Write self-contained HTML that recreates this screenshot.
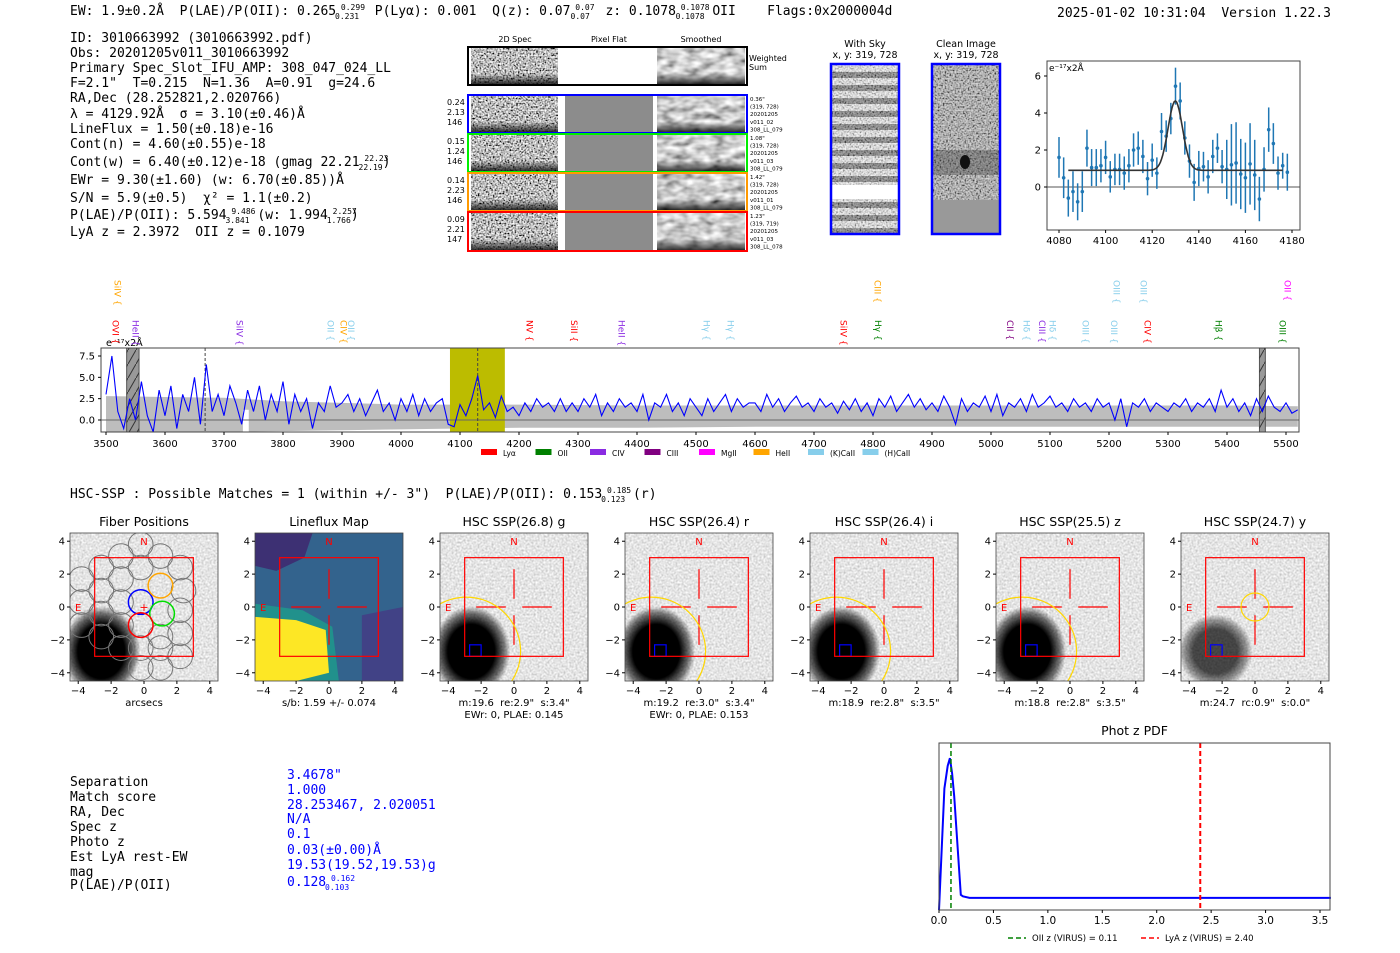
<!DOCTYPE html>
<html><head><meta charset="utf-8">
<style>
html,body{margin:0;padding:0;background:#fff;}
svg{display:block;}
text{white-space:pre;}
.m{font-family:"DejaVu Sans Mono","Liberation Mono",monospace;font-size:13px;fill:#000;}
.s{font-family:"DejaVu Sans","Liberation Sans",sans-serif;}
</style></head>
<body>
<svg id="fig" width="1400" height="953" viewBox="0 0 1400 953" xmlns="http://www.w3.org/2000/svg" xml:space="preserve">
<defs>
<filter id="nz" x="0" y="0" width="100%" height="100%"><feTurbulence type="fractalNoise" baseFrequency="0.6" numOctaves="1" seed="4"/><feColorMatrix type="saturate" values="0"/><feComponentTransfer><feFuncR type="linear" slope="3" intercept="-1"/><feFuncG type="linear" slope="3" intercept="-1"/><feFuncB type="linear" slope="3" intercept="-1"/><feFuncA type="linear" slope="0" intercept="1"/></feComponentTransfer></filter>
<filter id="nzs" x="0" y="0" width="100%" height="100%"><feTurbulence type="fractalNoise" baseFrequency="0.08 0.15" numOctaves="2" seed="9"/><feColorMatrix type="saturate" values="0"/><feComponentTransfer><feFuncR type="linear" slope="1.8" intercept="-0.3"/><feFuncG type="linear" slope="1.8" intercept="-0.3"/><feFuncB type="linear" slope="1.8" intercept="-0.3"/><feFuncA type="linear" slope="0" intercept="1"/></feComponentTransfer></filter>
<filter id="nzl" x="0" y="0" width="100%" height="100%"><feTurbulence type="fractalNoise" baseFrequency="0.5" numOctaves="1" seed="2"/><feColorMatrix type="saturate" values="0"/><feComponentTransfer><feFuncR type="linear" slope="0.9" intercept="0.33"/><feFuncG type="linear" slope="0.9" intercept="0.33"/><feFuncB type="linear" slope="0.9" intercept="0.33"/><feFuncA type="linear" slope="0" intercept="1"/></feComponentTransfer></filter>
<radialGradient id="gal"><stop offset="0" stop-color="#000"/><stop offset="0.6" stop-color="#000"/><stop offset="0.85" stop-color="#000" stop-opacity="0.5"/><stop offset="1" stop-color="#000" stop-opacity="0"/></radialGradient>
<linearGradient id="dark" x1="0" y1="0" x2="0" y2="1"><stop offset="0.7" stop-color="#000" stop-opacity="0"/><stop offset="1" stop-color="#000" stop-opacity="0.85"/></linearGradient>
<pattern id="hatch" width="8" height="14" patternUnits="userSpaceOnUse"><path d="M0,14 L8,0" stroke="#333" stroke-width="1"/></pattern>
<pattern id="stripes" width="10" height="13" patternUnits="userSpaceOnUse"><rect width="10" height="7" fill="#eee"/><rect y="7" width="10" height="6" fill="#666"/></pattern>
</defs>

<text class="m" x="70" y="15">EW: 1.9±0.2Å  P(LAE)/P(OII): 0.265<tspan font-size="8" dy="-5"> 0.299</tspan><tspan font-size="8" dx="-30" dy="9">0.231</tspan><tspan dy="-4">  P(Lyα): 0.001  Q(z): 0.07</tspan><tspan font-size="8" dy="-5"> 0.07</tspan><tspan font-size="8" dx="-24" dy="9">0.07</tspan><tspan dy="-4">  z: 0.1078</tspan><tspan font-size="8" dy="-5"> 0.1078</tspan><tspan font-size="8" dx="-34" dy="9">0.1078</tspan><tspan dy="-4"> OII    Flags:0x2000004d</tspan></text>
<text class="m" x="1057" y="17">2025-01-02 10:31:04  Version 1.22.3</text>

<g class="m">
<text x="70" y="42">ID: 3010663992 (3010663992.pdf)</text>
<text x="70" y="57">Obs: 20201205v011_3010663992</text>
<text x="70" y="72">Primary Spec_Slot_IFU_AMP: 308_047_024_LL</text>
<text x="70" y="87">F=2.1"  T=0.215  N=1.36  A=0.91  g=24.6</text>
<text x="70" y="102">RA,Dec (28.252821,2.020766)</text>
<text x="70" y="118">λ = 4129.92Å  σ = 3.10(±0.46)Å</text>
<text x="70" y="133">LineFlux = 1.50(±0.18)e-16</text>
<text x="70" y="148">Cont(n) = 4.60(±0.55)e-18</text>
<text x="70" y="166">Cont(w) = 6.40(±0.12)e-18 (gmag 22.21<tspan font-size="8" dy="-5"> 22.23</tspan><tspan font-size="8" dx="-30" dy="9">22.19</tspan><tspan dy="-4">)</tspan></text>
<text x="70" y="184">EWr = 9.30(±1.60) (w: 6.70(±0.85))Å</text>
<text x="70" y="202">S/N = 5.9(±0.5)  χ² = 1.1(±0.2)</text>
<text x="70" y="219">P(LAE)/P(OII): 5.594<tspan font-size="8" dy="-5"> 9.486</tspan><tspan font-size="8" dx="-30" dy="9">3.841</tspan><tspan dy="-4"> (w: 1.994</tspan><tspan font-size="8" dy="-5"> 2.257</tspan><tspan font-size="8" dx="-30" dy="9">1.766</tspan><tspan dy="-4">)</tspan></text>
<text x="70" y="236">LyA z = 2.3972  OII z = 0.1079</text>
</g>

<g id="spec2d"></g>
<g id="skyimgs"></g>
<g id="zoomplot"></g>
<g id="fullspec"></g>

<text class="m" x="70" y="498">HSC-SSP : Possible Matches = 1 (within +/- 3")  P(LAE)/P(OII): 0.153<tspan font-size="8" dy="-5"> 0.185</tspan><tspan font-size="8" dx="-30" dy="9">0.123</tspan><tspan dy="-4"> (r)</tspan></text>
<g id="cutouts"></g>

<g class="m">
<text x="70" y="786">Separation</text><text x="70" y="801">Match score</text><text x="70" y="816">RA, Dec</text><text x="70" y="831">Spec z</text><text x="70" y="846">Photo z</text><text x="70" y="861">Est LyA rest-EW</text><text x="70" y="876">mag</text><text x="70" y="889">P(LAE)/P(OII)</text>
<g>
<text x="287" y="779" style="fill:#00f">3.4678"</text><text x="287" y="794" style="fill:#00f">1.000</text><text x="287" y="809" style="fill:#00f">28.253467, 2.020051</text><text x="287" y="823" style="fill:#00f">N/A</text><text x="287" y="838" style="fill:#00f">0.1</text><text x="287" y="854" style="fill:#00f">0.03(±0.00)Å</text><text x="287" y="869" style="fill:#00f">19.53(19.52,19.53)g</text><text x="287" y="886" style="fill:#00f">0.128<tspan font-size="8" dy="-5"> 0.162</tspan><tspan font-size="8" dx="-30" dy="9">0.103</tspan></text>
</g></g>
<g id="pdfplot"></g>
</svg>

<script>
// ---------- data ----------
const specStart = 3500, specStep = 10;
const specFlux = [3,7.5,1,-1,2.5,0,4.5,0.5,-1.5,3.5,
0.5,4,-1,3,1,5,-0.5,6.5,1,3,
0.5,4,2,-0.5,3.5,1,4,0,3,1,
4.5,-0.5,3,1,2.5,-1,2,1,4,1.5,
2,3,1,2.5,0.5,2,3.5,1,2,0,
2.5,1,3,0.5,2.5,1,2,2.5,-0.5,-0.8,
1.8,0.5,2.5,5.2,1.2,2,0.3,2.8,1,1.5,
0.5,2,1,2.5,1.5,2,1,2.5,1,2,
1,2.5,1.5,3,0.5,2,1,2.5,1.5,2,
1,3,0,2,1.5,3,1,2,0.5,2.5,
1.5,0.5,2.5,1,2,3,1,2.5,1.5,2,
2,1,3,1.5,2.5,1,2,2.8,1.5,2,
1,2.5,1.5,2,0.8,2.2,1.2,2.5,1,2,
0.5,2.5,1.5,2.8,1,2,3,1.5,2.5,1.2,
2,1,2.8,1.5,-0.5,2.5,1,2,1.5,2.8,
1,3,0.5,2,1.5,2.5,1,3,1.5,2,
2.8,1.5,2,1,2.5,1.5,2,1,2.5,1.5,
2,0,2.5,-0.8,2,1.5,2.5,1,2,1.5,
1,2,1.5,2.5,1,2,1.5,2.5,1,3.5,
1.5,2.5,1,2,0.5,2.5,1,2.8,1.5,1,
2,0.8,1.2];
const bandWave = [3500,3600,3700,3800,3900,4000,4100,4200,4400,4600,4800,5000,5200,5400,5520];
const bandHigh = [2.8,2.7,2.6,2.2,2.0,1.8,1.8,1.8,1.7,1.7,1.7,1.7,1.7,1.7,1.6];
const bandLow = [-1.4,-1.4,-1.4,-1.3,-1.2,-1.1,-1.0,-0.9,-0.9,-0.8,-0.8,-0.8,-0.8,-0.8,-0.8];
const specXTicks = [3500,3600,3700,3800,3900,4000,4100,4200,4300,4400,4500,4600,4700,4800,4900,5000,5100,5200,5300,5400,5500];
const specYTicks = [0.0,2.5,5.0,7.5];
const lineNames = ["SiIV","CIII","OIII","OIII","OII","OVI","HeII","SiIV","OII","CIV","OII","NV","SiII","HeII","Hγ","Hγ","SiIV","Hγ","CII","Hδ","CIII","Hδ","OIII","OIII","CIV","Hβ","OIII"];
const lineWaves = [3519,4807,5212,5258,5502,3515,3549,3725,3880,3902,3914,4217,4292,4373,4517,4558,4749,4808,5031,5059,5086,5103,5159,5208,5264,5385,5493];
const lineRow = [0,0,0,0,0,1,1,1,1,1,1,1,1,1,1,1,1,1,1,1,1,1,1,1,1,1,1];
const lineColors = ["#ffa500","#ffa500","#87ceeb","#87ceeb","#ff00ff","#ff0000","#8a2be2","#8a2be2","#87ceeb","#ffa500","#87ceeb","#ff0000","#ff0000","#8a2be2","#87ceeb","#87ceeb","#ff0000","#008000","#800080","#87ceeb","#8a2be2","#87ceeb","#87ceeb","#87ceeb","#ff0000","#008000","#008000"];
const legendNames = ["Lyα","OII","CIV","CIII","MgII","HeII","(K)CaII","(H)CaII"];
const legendColors = ["#ff0000","#008000","#8a2be2","#800080","#ff00ff","#ffa500","#87ceeb","#87ceeb"];

const fitStart = 4080, fitStep = 2;
const fitFlux = [1.6,0.5,-0.6,-0.25,-0.8,-0.25,2.1,1.05,1.05,1.15,1.6,0.55,0.95,0.95,0.75,1.15,2.0,2.1,1.65,0.45,1.45,0.75,3.0,2.75,3.7,5.45,4.65,2.65,1.4,0.25,1.0,1.1,0.55,1.65,2.1,1.1,0.95,1.2,1.3,0.7,0.5,1.25,0.65,-0.65,0.95,3.1,2.35,0.75,1.15,0.8];
const fitErr = [1.1,1.1,1.0,1.1,1.0,1.1,1.0,1.0,1.0,0.9,0.9,0.85,0.85,0.85,0.9,0.9,0.9,0.9,0.9,0.9,0.9,0.85,1.0,0.85,0.85,1.0,1.0,0.9,0.9,1.0,0.95,0.8,0.9,0.9,0.8,0.9,1.6,2.2,2.2,1.9,1.9,2.2,1.9,1.2,1.2,1.2,1.1,0.9,0.7,1.0];
const fitXTicks = [4080,4100,4120,4140,4160,4180];
const fitYTicks = [0,2,4,6];
const gaussCenter = 4129.92, gaussSigma = 3.1, gaussAmp = 3.75, gaussCont = 0.9;

const pdfZ = [0,0.05,0.08,0.1,0.12,0.14,0.2,0.22,0.28,1.0,2.0,3.0,3.6];
const pdfP = [0,0.8,0.95,1.0,0.9,0.75,0.1,0.09,0.08,0.08,0.08,0.08,0.08];
const pdfXTicks = [0.0,0.5,1.0,1.5,2.0,2.5,3.0,3.5];
const oiiZ = 0.11, lyaZ = 2.40;

const cutTitles = ["Fiber Positions","Lineflux Map","HSC SSP(26.8) g","HSC SSP(26.4) r","HSC SSP(26.4) i","HSC SSP(25.5) z","HSC SSP(24.7) y"];
const cutSub1 = ["arcsecs","s/b: 1.59 +/- 0.074","m:19.6  re:2.9\"  s:3.4\"","m:19.2  re:3.0\"  s:3.4\"","m:18.9  re:2.8\"  s:3.5\"","m:18.8  re:2.8\"  s:3.5\"","m:24.7  rc:0.9\"  s:0.0\""];
const cutSub2 = ["","","EWr: 0, PLAE: 0.145","EWr: 0, PLAE: 0.153","","",""];
const cutTicks = [-4,-2,0,2,4];

// ---------- helpers ----------
const NS = "http://www.w3.org/2000/svg";
function mk(parent, tag, attrs, txt){ const e=document.createElementNS(NS,tag); for(const k in attrs) e.setAttribute(k,attrs[k]); if(txt!==undefined) e.textContent=txt; parent.appendChild(e); return e; }
const SF = '"DejaVu Sans","Liberation Sans",sans-serif';

// ---------- 2D spectra ----------
(function(){
  const g = document.getElementById('spec2d');
  const hdr = [["2D Spec",515],["Pixel Flat",609],["Smoothed",701]];
  hdr.forEach(h=>{ const t=mk(g,'text',{x:h[1],y:42,'font-size':8,'font-family':SF,'text-anchor':'middle'},h[0]);
      });
  const rows = [[47,85,"#000"],[95,133,"#0000ff"],[134,172,"#00ee00"],[173,211,"#ff9900"],[212,251,"#ff0000"]];
  const left = [null,["0.24","2.13","146"],["0.15","1.24","146"],["0.14","2.23","146"],["0.09","2.21","147"]];
  const right = [null,["0.36\"","(319, 728)","20201205","v011_02","308_LL_079"],["1.08\"","(319, 728)","20201205","v011_03","308_LL_079"],["1.42\"","(319, 728)","20201205","v011_01","308_LL_079"],["1.23\"","(319, 719)","20201205","v011_03","308_LL_078"]];
  rows.forEach((r,i)=>{
    const y0=r[0], h=r[1]-r[0];
    let e=mk(g,'rect',{x:471,y:y0,width:87,height:h,fill:'#888',filter:'url(#nz)'});
     
    e=mk(g,'rect',{x:471,y:y0,width:87,height:h,fill:'url(#dark)'});
     
    e=mk(g,'rect',{x:565,y:y0,width:88,height:h,fill:i===0?'#fff':'#8c8c8c'});
     
    e=mk(g,'rect',{x:657,y:y0,width:88,height:h,fill:'#888',filter:'url(#nzs)'});
     
    e=mk(g,'rect',{x:657,y:y0,width:88,height:h,fill:'url(#dark)'});
     
    e=mk(g,'rect',{x:468,y:y0,width:279,height:h,fill:'none',stroke:r[2],'stroke-width':2});
     
    if(left[i]) left[i].forEach((s,k)=>{ const t=mk(g,'text',{x:447,y:y0+10+k*10,'font-size':8,'font-family':SF},s);
        });
    if(right[i]) right[i].forEach((s,k)=>{ const t=mk(g,'text',{x:750,y:y0+6+k*7.6,'font-size':5.5,'font-family':SF},s);
        });
  });
  let t=mk(g,'text',{x:749,y:61,'font-size':8,'font-family':SF},"Weighted");
   
  t=mk(g,'text',{x:749,y:70,'font-size':8,'font-family':SF},"Sum");
   
})();

// ---------- sky images ----------
(function(){
  const g=document.getElementById('skyimgs');
  [[831,"With Sky"],[932,"Clean Image"]].forEach((p,i)=>{
    let t=mk(g,'text',{x:p[0]+34,y:47,'font-size':9.5,'font-family':SF,'text-anchor':'middle'},p[1]);
     
    t=mk(g,'text',{x:p[0]+34,y:58,'font-size':9.5,'font-family':SF,'text-anchor':'middle'},"x, y: 319, 728");
     
    let e=mk(g,'rect',{x:p[0],y:64,width:68,height:170,fill:i===0?'url(#stripes)':'#999'});
     
    e=mk(g,'rect',{x:p[0],y:64,width:68,height:170,fill:'#888',filter:'url(#nz)',opacity:i===0?0.45:0.6});
     
    if(i===0){ e=mk(g,'rect',{x:p[0],y:185,width:68,height:14,fill:'#fff'});   }
    else { e=mk(g,'rect',{x:p[0],y:150,width:68,height:25,fill:'#333',opacity:0.35});  
      e=mk(g,'rect',{x:p[0],y:200,width:68,height:34,fill:'#999'});  
      e=mk(g,'ellipse',{cx:965,cy:162,rx:5,ry:7,fill:'#111'});   }
    e=mk(g,'rect',{x:p[0],y:64,width:68,height:170,fill:'none',stroke:'#0000ff','stroke-width':2.5});
     
  });
})();

// ---------- zoom fit plot ----------
(function(){
  const g=document.getElementById('zoomplot');
  const L=1047,R=1300,T=61,B=230;
  const x=v=>1059+(v-4080)*(1292-1059)/100;
  const y=v=>187-v*(187-76)/6;
  let e;
  e=mk(g,'line',{x1:L,x2:R,y1:y(0),y2:y(0),stroke:'#555','stroke-width':1});  
  fitFlux.forEach((f,i)=>{ const w=fitStart+i*fitStep;
    e=mk(g,'line',{x1:x(w),x2:x(w),y1:Math.max(T,y(f+fitErr[i])),y2:Math.min(B,y(f-fitErr[i])),stroke:'#1f77b4','stroke-width':1.5});
     
    if(y(f)<B){ e=mk(g,'circle',{cx:x(w),cy:y(f),r:1.8,fill:'#1f77b4'});   }
  });
  let d='';
  for(let w=4084; w<=4176; w+=0.5){ const v=gaussCont+gaussAmp*Math.exp(-0.5*((w-gaussCenter)/gaussSigma)**2); d+=(d?'L':'M')+x(w).toFixed(1)+','+y(v).toFixed(1); }
  e=mk(g,'path',{d:d,fill:'none',stroke:'#333','stroke-width':1.6});  
  e=mk(g,'rect',{x:L,y:T,width:R-L,height:B-T,fill:'none',stroke:'#444','stroke-width':1});  
  fitXTicks.forEach(v=>{ e=mk(g,'line',{x1:x(v),x2:x(v),y1:B,y2:B+3,stroke:'#000'});  
    e=mk(g,'text',{x:x(v),y:B+14,'font-size':10,'font-family':SF,'text-anchor':'middle'},String(v));   });
  fitYTicks.forEach(v=>{ e=mk(g,'line',{x1:L-3,x2:L,y1:y(v),y2:y(v),stroke:'#000'});  
    e=mk(g,'text',{x:L-6,y:y(v)+3.5,'font-size':10,'font-family':SF,'text-anchor':'end'},String(v));   });
  e=mk(g,'text',{x:L+2,y:T+10,'font-size':9,'font-family':SF},"e⁻¹⁷x2Å");  
})();

// ---------- full spectrum ----------
(function(){
  const g=document.getElementById('fullspec');
  const L=101,R=1299,T=348,B=432;
  const x=v=>106+(v-3500)*(1286-106)/2000;
  const y=v=>420-v*(420-356)/7.5;
  let e;
  let d='M'+x(bandWave[0])+','+y(bandHigh[0]);
  bandWave.forEach((w,i)=>{ d+='L'+x(w).toFixed(1)+','+y(bandHigh[i]).toFixed(1); });
  for(let i=bandWave.length-1;i>=0;i--) d+='L'+x(bandWave[i]).toFixed(1)+','+y(bandLow[i]).toFixed(1);
  e=mk(g,'path',{d:d+'Z',fill:'#bdbdbd'});  
  e=mk(g,'rect',{x:x(3732),y:y(1.2),width:x(3742)-x(3732),height:B-y(1.2),fill:'#fff'});  
  e=mk(g,'rect',{x:x(4083),y:T,width:x(4176)-x(4083),height:B-T,fill:'#bcbc00'});  
  [[3535,3556],[5455,5465]].forEach(m=>{
    e=mk(g,'rect',{x:x(m[0]),y:T,width:x(m[1])-x(m[0]),height:B-T,fill:'#999',stroke:'#555'});  
    e=mk(g,'rect',{x:x(m[0]),y:T,width:x(m[1])-x(m[0]),height:B-T,fill:'url(#hatch)'});  
  });
  e=mk(g,'line',{x1:L,x2:R,y1:y(0),y2:y(0),stroke:'#666','stroke-width':1});  
  [3668,4130].forEach(w=>{ e=mk(g,'line',{x1:x(w),x2:x(w),y1:T,y2:B,stroke:'#444','stroke-dasharray':'3,2','stroke-width':1});   });
  d='';
  specFlux.forEach((f,i)=>{ const yy=Math.max(T,Math.min(B,y(f))); d+=(i?'L':'M')+x(specStart+i*specStep).toFixed(1)+','+yy.toFixed(1); });
  e=mk(g,'path',{d:d,fill:'none',stroke:'#0000ff','stroke-width':1.1});  
  e=mk(g,'rect',{x:L,y:T,width:R-L,height:B-T,fill:'none',stroke:'#444','stroke-width':1});  
  specXTicks.forEach(v=>{ e=mk(g,'line',{x1:x(v),x2:x(v),y1:B,y2:B+3,stroke:'#000'});  
    e=mk(g,'text',{x:x(v),y:B+15,'font-size':10,'font-family':SF,'text-anchor':'middle'},String(v));   });
  specYTicks.forEach(v=>{ e=mk(g,'line',{x1:L-3,x2:L,y1:y(v),y2:y(v),stroke:'#000'});  
    e=mk(g,'text',{x:L-6,y:y(v)+3.5,'font-size':10,'font-family':SF,'text-anchor':'end'},v.toFixed(1));   });
  e=mk(g,'text',{x:106,y:346,'font-size':9.5,'font-family':SF},"e⁻¹⁷x2Å");  
  lineNames.forEach((n,i)=>{
    const xp=x(lineWaves[i]);
    const ytop=lineRow[i]===0?280:320;
    e=mk(g,'text',{x:xp,y:ytop,'font-size':9,'font-family':SF,fill:lineColors[i],transform:`rotate(90 ${xp} ${ytop})`,'dominant-baseline':'middle'},n+" {");
     
  });
  legendNames.forEach((n,i)=>{ const lx=481+i*54.5;
    e=mk(g,'rect',{x:lx,y:449,width:16,height:6,fill:legendColors[i]});  
    e=mk(g,'text',{x:lx+22,y:456,'font-size':7.5,'font-family':SF},n);   });
})();

// ---------- cutouts ----------
(function(){
  const g=document.getElementById('cutouts');
  const panelLeft=[70,255,440,625,810,996,1181];
  const T=533, S=148;
  panelLeft.forEach((L,pi)=>{
    const u=S/9; const cx=L+S/2, cy=T+S/2;
    const X=v=>cx+v*u, Y=v=>cy-v*u;
    const cid='clip'+pi;
    const cp=mk(g,'clipPath',{id:cid}); mk(cp,'rect',{x:L,y:T,width:S,height:S});
    const pg=mk(g,'g',{'clip-path':`url(#${cid})`});
     
    let e;
    if(pi===1){
      e=mk(pg,'rect',{x:L,y:T,width:S,height:S,fill:'#33638d'});  
      e=mk(pg,'path',{d:`M${X(-4.5)},${Y(4.5)} L${X(-1)},${Y(4.5)} L${X(-1.5)},${Y(3)} L${X(-3.2)},${Y(2.2)} L${X(-4.5)},${Y(2.5)}Z`,fill:'#3e2a70',opacity:0.9});  
      e=mk(pg,'path',{d:`M${X(2)},${Y(-0.5)} L${X(4.5)},${Y(0)} L${X(4.5)},${Y(-4.5)} L${X(2)},${Y(-4.5)}Z`,fill:'#433e85',opacity:0.9});  
      e=mk(pg,'path',{d:`M${X(-4.5)},${Y(0.2)} L${X(-1.6)},${Y(-0.2)} L${X(0.2)},${Y(-1.2)} L${X(0.6)},${Y(-4.5)} L${X(-4.5)},${Y(-4.5)}Z`,fill:'#21918c'});  
      e=mk(pg,'path',{d:`M${X(-4.5)},${Y(-0.6)} L${X(-2)},${Y(-0.8)} L${X(-0.2)},${Y(-1.4)} L${X(0)},${Y(-4)} L${X(-2)},${Y(-4.5)} L${X(-4.5)},${Y(-4.5)}Z`,fill:'#fde725'});  
    } else {
      e=mk(pg,'rect',{x:L,y:T,width:S,height:S,fill:'#ccc',filter:'url(#nzl)'});  
      const gx = pi===6? -2.4 : -2.6, gy=-2.7, rx = pi===6?1.8:1.9, ry=pi===6?1.8:2.2;
      e=mk(pg,'ellipse',{cx:X(gx),cy:Y(gy),rx:rx*u*1.25,ry:ry*u*1.25,fill:'url(#gal)',opacity:pi===6?0.7:1});  
    }
    if(pi===0){
      const gray=[[-0.2,3.8],[-1.4,3.1],[1,3.1],[-2.6,2.4],[-0.2,2.4],[2.2,2.4],[-1.4,1.7],[-3.8,1.7],[2.4,1.0],[-2.6,1.0],[-1.4,0.3],[-3.8,0.3],[2.2,-0.2],[-2.6,-0.4],[-1.4,-1.1],[-3.8,-1.1],[2.2,-1.6],[-2.6,-1.8],[-1.4,-2.5],[-0.2,-2.5],[1,-2.5],[2.2,-3.0],[-0.2,-3.7],[1,-1.8],[1,-3.7]];
      gray.forEach(c=>{ e=mk(pg,'circle',{cx:X(c[0]),cy:Y(c[1]),r:0.75*u,fill:'none',stroke:'#777','stroke-width':1});   });
      [[-0.2,0.3,'#0000ff'],[1,1.3,'#ffa500'],[1.1,-0.4,'#00dd00'],[-0.2,-1.1,'#ff0000']].forEach(c=>{
        e=mk(pg,'circle',{cx:X(c[0]),cy:Y(c[1]),r:0.75*u,fill:'none',stroke:c[2],'stroke-width':1.5});   });
      e=mk(pg,'text',{x:X(0),y:Y(0)+4,'font-size':11,'text-anchor':'middle',fill:'#f00','font-family':SF},"+");  
    } else {
      const segs=[[-2.3,0,-0.5,0],[0.5,0,2.3,0],[0,2.3,0,0.5],[0,-0.5,0,-2.3]];
      segs.forEach(s=>{ e=mk(pg,'line',{x1:X(s[0]),y1:Y(s[1]),x2:X(s[2]),y2:Y(s[3]),stroke:'#f00','stroke-width':1.2});   });
    }
    if(pi>=2 && pi<=5){ e=mk(pg,'circle',{cx:X(-2.9),cy:Y(-2.7),r:3.3*u,fill:'none',stroke:'#ffd700','stroke-width':1.2});   }
    if(pi===6){ e=mk(pg,'circle',{cx:X(0),cy:Y(0),r:0.85*u,fill:'none',stroke:'#ffd700','stroke-width':1.2});   }
    if(pi>=2){ e=mk(pg,'rect',{x:X(-2.7),y:Y(-2.3),width:0.7*u,height:0.7*u,fill:'none',stroke:'#00f','stroke-width':1.2});   }
    e=mk(pg,'rect',{x:X(-3),y:Y(3),width:6*u,height:6*u,fill:'none',stroke:'#f00','stroke-width':1.2});  
    e=mk(pg,'text',{x:X(0),y:Y(4)+4,'font-size':10,'text-anchor':'middle',fill:'#f00','font-family':SF},"N");  
    e=mk(pg,'text',{x:X(-4),y:Y(0)+4,'font-size':10,'text-anchor':'middle',fill:'#f00','font-family':SF},"E");  
    e=mk(g,'rect',{x:L,y:T,width:S,height:S,fill:'none',stroke:'#444','stroke-width':0.8});  
    e=mk(g,'text',{x:cx,y:T-7,'font-size':12.5,'text-anchor':'middle','font-family':SF},cutTitles[pi]);  
    cutTicks.forEach(v=>{
      e=mk(g,'line',{x1:X(v),x2:X(v),y1:T+S,y2:T+S+3,stroke:'#000'});  
      e=mk(g,'text',{x:X(v),y:T+S+13,'font-size':10,'text-anchor':'middle','font-family':SF},v<0?'−'+(-v):String(v));  
      e=mk(g,'line',{x1:L-3,x2:L,y1:Y(v),y2:Y(v),stroke:'#000'});  
      e=mk(g,'text',{x:L-5,y:Y(v)+3.5,'font-size':10,'text-anchor':'end','font-family':SF},v<0?'−'+(-v):String(v));  
    });
    e=mk(g,'text',{x:cx,y:T+S+25,'font-size':10,'text-anchor':'middle','font-family':SF},cutSub1[pi]);  
    if(cutSub2[pi]){ e=mk(g,'text',{x:cx,y:T+S+37,'font-size':10,'text-anchor':'middle','font-family':SF},cutSub2[pi]);   }
  });
})();

// ---------- phot-z pdf ----------
(function(){
  const g=document.getElementById('pdfplot');
  const L=939,R=1330,T=743,B=910;
  const x=v=>L+v*(1320-939)/3.5;
  const y=v=>B-v*(B-T)/1.1;
  let e;
  e=mk(g,'text',{x:(L+R)/2,y:735,'font-size':12.5,'text-anchor':'middle','font-family':SF},"Phot z PDF");  
  let d=''; pdfZ.forEach((z,i)=>{ d+=(i?'L':'M')+x(z).toFixed(1)+','+y(pdfP[i]).toFixed(1); });
  e=mk(g,'path',{d:d,fill:'none',stroke:'#0000ff','stroke-width':2});  
  e=mk(g,'line',{x1:x(oiiZ),x2:x(oiiZ),y1:T,y2:B,stroke:'#008000','stroke-width':1.5,'stroke-dasharray':'5,3'});  
  e=mk(g,'line',{x1:x(lyaZ),x2:x(lyaZ),y1:T,y2:B,stroke:'#ff0000','stroke-width':2,'stroke-dasharray':'5,3'});  
  e=mk(g,'rect',{x:L,y:T,width:R-L,height:B-T,fill:'none',stroke:'#444','stroke-width':1});  
  pdfXTicks.forEach(v=>{ e=mk(g,'line',{x1:x(v),x2:x(v),y1:B,y2:B+3,stroke:'#000'});  
    e=mk(g,'text',{x:x(v),y:B+14,'font-size':10.5,'text-anchor':'middle','font-family':SF},v.toFixed(1));   });
  e=mk(g,'line',{x1:1008,x2:1026,y1:938,y2:938,stroke:'#008000','stroke-width':1.5,'stroke-dasharray':'5,3'});  
  e=mk(g,'text',{x:1032,y:941,'font-size':8.5,'font-family':SF},"OII z (VIRUS) = 0.11");  
  e=mk(g,'line',{x1:1141,x2:1159,y1:938,y2:938,stroke:'#ff0000','stroke-width':1.5,'stroke-dasharray':'5,3'});  
  e=mk(g,'text',{x:1165,y:941,'font-size':8.5,'font-family':SF},"LyA z (VIRUS) = 2.40");  
})();
</script>
</body></html>
